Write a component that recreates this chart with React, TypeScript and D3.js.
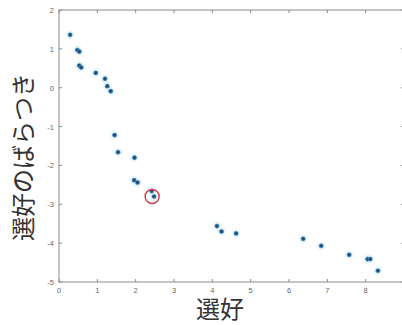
import React from "react";
import * as d3 from "d3";

const xValues = [0.29, 0.48, 0.53, 0.53, 0.58, 0.96, 1.2, 1.26, 1.35, 1.45, 1.54, 1.97, 1.96, 2.05, 2.42, 2.48, 4.12, 4.24, 4.62, 6.37, 6.84, 7.57, 8.05, 8.12, 8.32];
const yValues = [1.36, 0.97, 0.93, 0.57, 0.52, 0.38, 0.23, 0.04, -0.09, -1.22, -1.66, -1.8, -2.38, -2.44, -2.66, -2.8, -3.56, -3.7, -3.75, -3.89, -4.07, -4.3, -4.41, -4.41, -4.71];
const highlight = [2.43, -2.8];
const xTicks = [0, 1, 2, 3, 4, 5, 6, 7, 8, 9];
const xTickLabels = ["0", "1", "2", "3", "4", "5", "6", "7", "8", ""];
const yTicks = [2, 1, 0, -1, -2, -3, -4, -5];
const xLabel = "選好";
const yLabel = "選好のばらつき";

const W = 402;
const H = 325;
const L = 59, R = 404, T = 10, B = 282;

export default function App() {
  const x = d3.scaleLinear().domain([0, 9]).range([L, R]);
  const y = d3.scaleLinear().domain([-5, 2]).range([B, T]);
  const axisColor = "#8a8a8a";
  const tickColor = "#666";
  const jp = "'Noto Sans CJK JP', 'Noto Sans', sans-serif";
  return (
    <div style={{ position: "fixed", left: 0, top: 0 }}>
      <svg width={W} height={H} style={{ display: "block", background: "#fff" }}>
        <rect x={L} y={T} width={R - L} height={B - T} fill="none" stroke={axisColor} strokeWidth={1} />
        {xTicks.map((t, i) => (
          <g key={"x" + t}>
            <line x1={x(t)} x2={x(t)} y1={B} y2={B - 3} stroke={axisColor} />
            <line x1={x(t)} x2={x(t)} y1={T} y2={T + 3} stroke={axisColor} />
            {xTickLabels[i] && (
              <text x={x(t)} y={293} fontSize={7.5} fill={tickColor} textAnchor="middle" fontFamily="Liberation Sans, Arial, sans-serif">
                {xTickLabels[i]}
              </text>
            )}
          </g>
        ))}
        {yTicks.map((t) => (
          <g key={"y" + t}>
            <line x1={L} x2={L + 3} y1={y(t)} y2={y(t)} stroke={axisColor} />
            <line x1={R} x2={R - 3} y1={y(t)} y2={y(t)} stroke={axisColor} />
            <text x={54} y={y(t) + 3} fontSize={7.5} fill={tickColor} textAnchor="end" fontFamily="Liberation Sans, Arial, sans-serif">
              {t}
            </text>
          </g>
        ))}
        {xValues.map((v, i) => (
          <circle key={"h" + i} cx={x(v)} cy={y(yValues[i])} r={4.5} fill="#e3f4fb" opacity={0.7} />
        ))}
        {xValues.map((v, i) => (
          <circle key={"p" + i} cx={x(v)} cy={y(yValues[i])} r={2.1} fill="#1f4f78" stroke="#4a93c8" strokeWidth={0.7} />
        ))}
        <circle cx={x(highlight[0])} cy={y(highlight[1])} r={7} fill="none" stroke="#d0404a" strokeWidth={1.5} />
        <text x={220} y={318} fontSize={24} fill="#333" textAnchor="middle" fontFamily={jp}>
          {xLabel}
        </text>
        <text transform={`translate(32, 157) rotate(-90)`} fontSize={24} fill="#333" textAnchor="middle" fontFamily={jp}>
          {yLabel}
        </text>
      </svg>
    </div>
  );
}
